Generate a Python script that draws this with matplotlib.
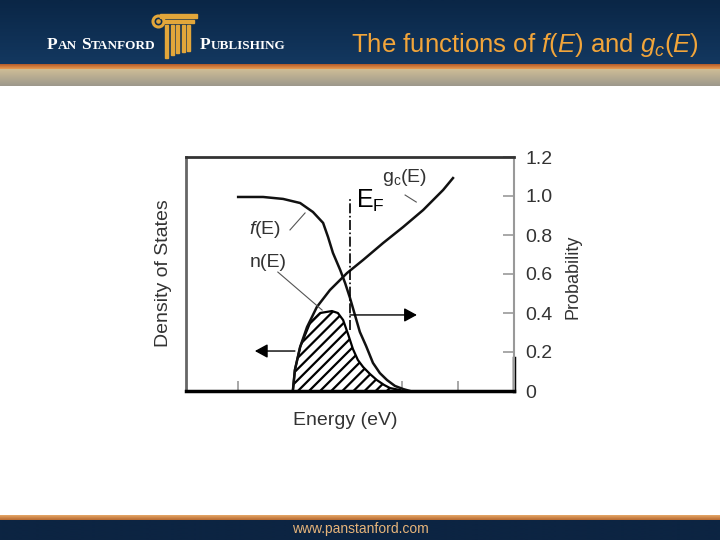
import numpy as np
import matplotlib
matplotlib.use("Agg")
import matplotlib.pyplot as plt
from matplotlib.patches import Rectangle, Circle
from matplotlib.colors import LinearSegmentedColormap
from matplotlib.offsetbox import TextArea, HPacker, AnnotationBbox

plt.rcParams['font.family'] = ['Liberation Sans', 'DejaVu Sans']
plt.rcParams['mathtext.fontset'] = 'custom'
plt.rcParams['mathtext.rm'] = 'Liberation Sans'
plt.rcParams['mathtext.it'] = 'Liberation Sans:italic'
plt.rcParams['mathtext.bf'] = 'Liberation Sans:bold'
plt.rcParams['hatch.linewidth'] = 1.6

# curves (energy in arbitrary units, Fermi level at 5)
f_E = [1.59, 2.35, 2.96, 3.48, 3.87, 4.18, 4.33, 4.48, 4.70, 4.85, 5.00,
       5.15, 5.30, 5.49, 5.70, 5.91, 6.13, 6.37, 6.62, 6.83]
f_P = [0.995, 0.995, 0.985, 0.964, 0.918, 0.862, 0.790, 0.708, 0.621, 0.554,
       0.477, 0.390, 0.303, 0.231, 0.144, 0.092, 0.056, 0.026, 0.010, 0.0]

g_E = [3.26, 3.32, 3.48, 3.69, 3.99, 4.39, 4.91, 5.40, 6.01, 6.62, 7.23, 7.84, 8.14]
g_P = [0.005, 0.108, 0.226, 0.328, 0.431, 0.518, 0.605, 0.672, 0.759, 0.841,
       0.928, 1.031, 1.092]

n_E = [3.26, 3.32, 3.48, 3.78, 4.09, 4.45, 4.63, 4.79, 4.94, 5.09, 5.24,
       5.40, 5.61, 5.82, 6.04, 6.22, 6.52]
n_P = [0.005, 0.108, 0.226, 0.349, 0.400, 0.410, 0.400, 0.364, 0.292, 0.215,
       0.159, 0.123, 0.087, 0.056, 0.031, 0.015, 0.005]

E_F = 5.0
prob_ticks = [0, 0.2, 0.4, 0.6, 0.8, 1.0, 1.2]
prob_labels = ['0', '0.2', '0.4', '0.6', '0.8', '1.0', '1.2']
energy_ticks = [1.6, 6.6, 8.3]

fig = plt.figure(figsize=(7.2, 5.4), dpi=100)

# slide background (pixel coordinates, y down)
bg = fig.add_axes([0, 0, 1, 1], zorder=0)
bg.axis('off')


def band(y0, y1, c_top, c_bot):
    cmap = LinearSegmentedColormap.from_list('band', [c_top, c_bot])
    bg.imshow(np.linspace(0, 1, 64).reshape(-1, 1), cmap=cmap, aspect='auto',
              extent=(0, 720, y1, y0), interpolation='bilinear')


band(0, 65, '#0a2646', '#133860')
band(65, 69.5, '#b45a28', '#e89c52')
band(69.5, 86, '#cfbd96', '#9c988c')
band(515, 520, '#e6a868', '#b56830')
band(520, 540, '#0c2442', '#0c2442')
bg.set_xlim(0, 720)
bg.set_ylim(540, 0)

# logo column
gold = '#e2a63a'
bg.add_patch(Rectangle((160, 13.5), 37, 4, color=gold))
bg.add_patch(Rectangle((164, 19.5), 30, 3, color=gold))
bg.add_patch(Circle((158.5, 21.5), 5.5, facecolor='none', edgecolor=gold, lw=2.2))
bg.add_patch(Circle((158.5, 21.5), 1.6, color=gold))
for xf, yb in zip([165, 170.5, 176, 181.5, 187], [58, 55, 53, 52, 51]):
    bg.add_patch(Rectangle((xf, 25), 3, yb - 25, color=gold))


def small_caps(parts, x, y):
    boxes = [TextArea(t, textprops=dict(color='white', fontsize=s, fontweight='bold',
                                        family='Liberation Serif'))
             for t, s in parts]
    pack = HPacker(children=boxes, align='baseline', pad=0, sep=0)
    bg.add_artist(AnnotationBbox(pack, (x, y), xycoords='data', box_alignment=(0, 0.5),
                                 frameon=False, pad=0))


small_caps([('P', 12.5), ('AN', 9.5)], 47, 45)
small_caps([('S', 12.5), ('TANFORD', 9.5)], 81, 45)
small_caps([('P', 12.5), ('UBLISHING', 9.5)], 200, 45)

bg.text(525, 45, 'The functions of $f$($E$) and $g_c$($E$)', ha='center', va='center',
        fontsize=18.5, color='#f2a53a')
bg.text(360, 529.5, 'www.panstanford.com', ha='center', va='center',
        fontsize=10, color='#e6b47a')

# chart
ax = fig.add_axes([186 / 720, 1 - 391 / 540, 328 / 720, 234 / 540], zorder=2)
ax.set_xlim(0, 10)
ax.set_ylim(0, 1.2)

ax.fill_between(n_E, 0, n_P, facecolor='none', edgecolor='black', hatch='///', linewidth=0)
ax.plot(n_E, n_P, color='black', lw=1.6)
ax.plot(f_E, f_P, color='#111111', lw=1.8)
ax.plot(g_E, g_P, color='#111111', lw=1.8)
ax.plot([E_F, E_F], [0.313, 0.99], color='black', lw=1.2, dashes=(6, 1.5, 1, 1.5))

arrow = dict(arrowstyle='-|>,head_length=0.55,head_width=0.3', color='black', lw=1,
             shrinkA=0, shrinkB=0, mutation_scale=14)
ax.annotate('', xy=(7.04, 0.39), xytext=(E_F, 0.39), arrowprops=arrow)
ax.annotate('', xy=(2.10, 0.205), xytext=(3.32, 0.205), arrowprops=arrow)

lead = dict(color='#555555', lw=0.8)
ax.plot([6.68, 7.02], [1.005, 0.969], **lead)
ax.plot([3.17, 3.63], [0.826, 0.913], **lead)
ax.plot([2.80, 4.15], [0.610, 0.415], **lead)

ax.text(6.67, 1.095, r'$\mathrm{g_c}$(E)', ha='center', va='center', fontsize=14, color='#333333')
ax.text(5.61, 0.974, r'$\mathrm{E_F}$', ha='center', va='center', fontsize=18, color='black')
ax.text(2.41, 0.83, '$f$(E)', ha='center', va='center', fontsize=14, color='#333333')
ax.text(2.50, 0.66, 'n(E)', ha='center', va='center', fontsize=14, color='#333333')

ax.text(-0.70, 0.605, 'Density of States', rotation=90, ha='center', va='center',
        fontsize=14, color='#333333')
ax.text(0.485, -0.124, 'Energy (eV)', transform=ax.transAxes, ha='center', va='center',
        fontsize=14, color='#333333')
ax.text(1.18, 0.49, 'Probability', transform=ax.transAxes, rotation=90, ha='center',
        va='center', fontsize=13, color='#333333')

ax.yaxis.tick_right()
ax.set_yticks(prob_ticks, prob_labels)
ax.tick_params(axis='y', direction='in', length=8, width=1.2, color='#999999', pad=8,
               labelsize=14, labelcolor='#333333')
ax.set_xticks(energy_ticks, [''] * len(energy_ticks))
ax.tick_params(axis='x', direction='in', length=7, width=1.2, color='#999999')

ax.spines['top'].set_color('#333333')
ax.spines['top'].set_linewidth(2)
ax.spines['left'].set_color('#666666')
ax.spines['left'].set_linewidth(2)
ax.spines['bottom'].set_color('black')
ax.spines['bottom'].set_linewidth(2.5)
ax.spines['right'].set_color('#999999')
ax.spines['right'].set_linewidth(1.5)
ax.plot([10, 10], [0, 0.17], color='black', lw=2.5, clip_on=False)

fig.savefig('out.png', dpi=100)
